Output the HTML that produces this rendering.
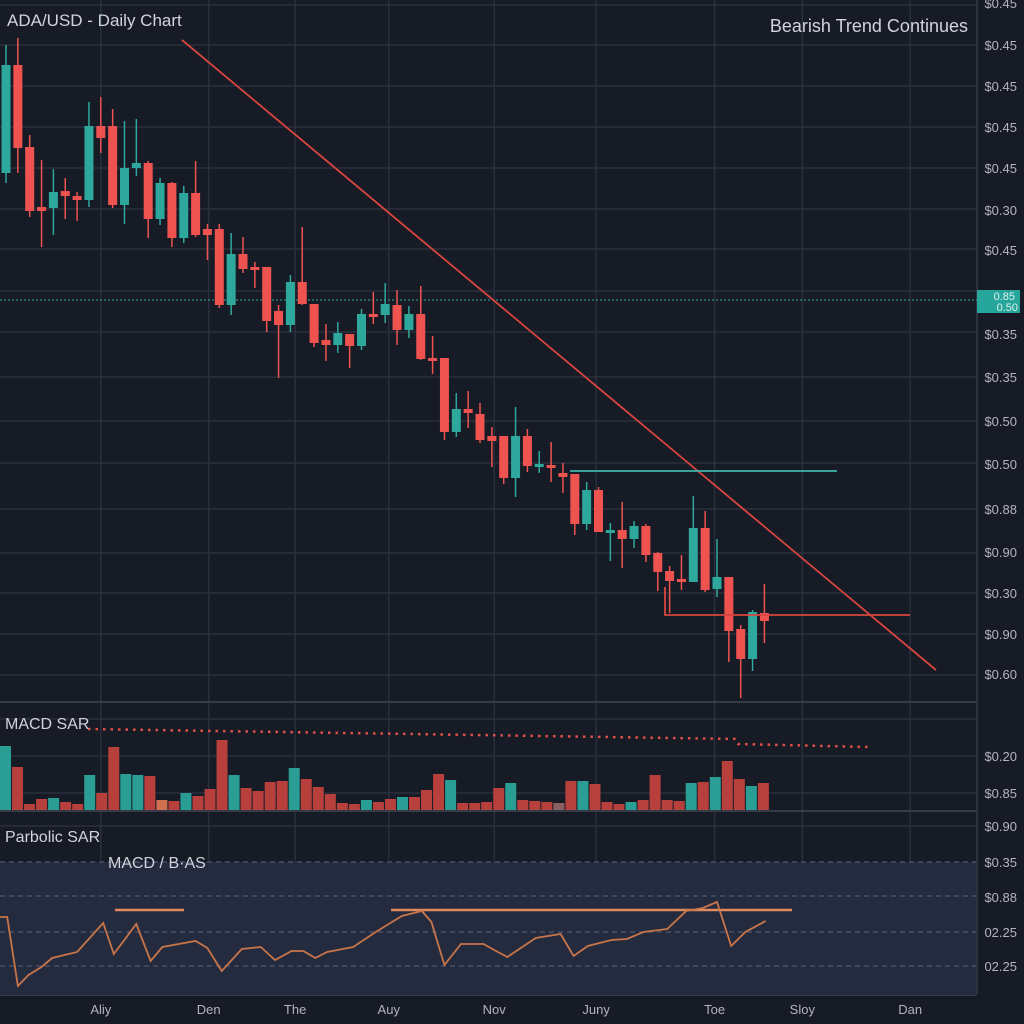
<!DOCTYPE html>
<html><head><meta charset="utf-8">
<style>
html,body{margin:0;padding:0;background:#171b26;}
svg{display:block;font-family:"Liberation Sans",sans-serif;}
</style></head>
<body>
<svg id="chart" width="1024" height="1024" viewBox="0 0 1024 1024" xmlns="http://www.w3.org/2000/svg">
<rect x="0" y="0" width="1024" height="1024" fill="#171b26"/>
<g id="grid"></g>
<rect x="0" y="862" width="976" height="133" fill="#252b3e"/>
<g id="lowgrid"></g>
<g id="candles"></g>
<g id="macd"></g>
<g id="osc"></g>
<g id="axes"></g>
<text x="7" y="26" fill="#d1d4dc" font-size="17">ADA/USD - Daily Chart</text>
<text x="968" y="32" fill="#d1d4dc" font-size="18" text-anchor="end">Bearish Trend Continues</text>
<text x="5" y="729" fill="#d1d4dc" font-size="16">MACD SAR</text>
<text x="5" y="842" fill="#d1d4dc" font-size="16">Parbolic SAR</text>
<text x="108" y="868" fill="#d1d4dc" font-size="16">MACD / B·AS</text>
</svg>
<script>
const NS='http://www.w3.org/2000/svg';
const opens =[.547,.655,.573,.513,.512,.529,.524,.520,.594,.594,.515,.552,.557,.501,.537,.482,.527,.491,.491,.415,.466,.453,.453,.409,.395,.438,.416,.380,.375,.386,.374,.406,.405,.415,.390,.406,.362,.362,.288,.311,.306,.284,.284,.242,.284,.254,.255,.247,.246,.196,.230,.187,.190,.181,.194,.167,.149,.141,.138,.192,.131,.143,.091,.061,.107];
const highs =[.675,.682,.585,.560,.551,.542,.528,.618,.623,.611,.599,.601,.559,.542,.538,.534,.559,.496,.496,.487,.483,.458,.453,.415,.445,.493,.416,.396,.398,.386,.411,.428,.437,.430,.414,.434,.384,.362,.327,.329,.317,.293,.284,.313,.291,.269,.278,.257,.246,.238,.233,.197,.218,.199,.196,.168,.154,.165,.224,.209,.181,.143,.095,.110,.136];
const lows  =[.537,.547,.503,.473,.485,.501,.499,.513,.567,.512,.496,.544,.482,.495,.473,.477,.483,.460,.412,.405,.447,.432,.388,.342,.388,.415,.373,.359,.367,.352,.370,.396,.397,.375,.382,.360,.346,.280,.283,.292,.277,.253,.236,.223,.248,.247,.238,.227,.185,.190,.188,.159,.152,.172,.158,.129,.107,.130,.138,.128,.123,.058,.022,.049,.077];
const closes=[.655,.572,.509,.509,.528,.524,.520,.594,.582,.515,.552,.557,.501,.537,.482,.527,.485,.485,.415,.466,.451,.450,.399,.395,.438,.416,.377,.375,.387,.374,.406,.404,.416,.390,.406,.361,.359,.288,.311,.307,.280,.279,.242,.284,.254,.256,.253,.243,.196,.230,.188,.190,.181,.194,.165,.148,.139,.138,.192,.130,.143,.089,.061,.108,.099];
const macdValues=[64,43,6,11,12,8,6,35,17,63,36,35,34,10,9,17,14,21,70,35,22,19,28,29,42,31,23,16,7,6,10,8,11,13,13,20,36,30,7,7,8,22,27,10,9,8,7,29,29,26,8,6,8,10,35,10,9,27,28,33,49,31,24,27];
const macdColors=['t','r','r','r','t','r','r','t','r','r','t','t','r','o','r','t','r','r','r','t','r','r','r','r','t','r','r','r','r','r','t','r','r','t','r','r','r','t','r','r','r','r','t','r','r','r','g','r','t','r','r','r','t','r','r','r','r','t','r','t','r','r','t','r'];
const oscT=[-0.5,0.1,1.0,1.9,3.0,3.9,6.0,8.2,9.1,11.0,12.2,13.2,16.0,17.0,18.2,19.9,21.5,22.7,24.1,25.1,26.1,27.1,29.3,31.2,33.4,35.1,35.9,37.0,38.4,40.3,41.2,42.3,44.7,46.8,47.9,49.1,51.1,52.4,53.8,55.8,57.4,58.8,60.0,61.2,62.4,64.1];
const oscV=[.83,.83,.14,.25,.33,.42,.48,.77,.46,.76,.39,.53,.59,.52,.29,.51,.53,.40,.49,.49,.42,.48,.53,.68,.84,.89,.78,.35,.56,.56,.50,.43,.62,.66,.44,.54,.60,.61,.68,.71,.89,.92,.98,.54,.68,.79];
const priceLabels=['$0.45','$0.45','$0.45','$0.45','$0.45','$0.30','$0.45','$0.85','$0.35','$0.35','$0.50','$0.50','$0.88','$0.90','$0.30','$0.90','$0.60'];
const xLabels=['Aliy','Den','The','Auy','Nov','Juny','Toe','Sloy','Dan'];
const xLabelDays=[8.0,17.1,24.4,32.3,41.2,49.8,59.8,67.2,76.3];

const xOf=i=>6+i*11.85;
const yOf=p=>(0.72-p)*1000;
const yOsc=v=>1000-v*100;
function mk(tag,attrs,parent){const e=document.createElementNS(NS,tag);for(const k in attrs)e.setAttribute(k,attrs[k]);parent.appendChild(e);return e;}
const svg=document.getElementById('chart');
const grid=document.getElementById('grid');
const gridYs=[5,45,86,127,168,209,249,291,332,377,421,463,509,553,593,634,675];
gridYs.forEach(y=>mk('line',{x1:0,x2:976,y1:y,y2:y,stroke:'#2a2f3c','stroke-width':1.5},grid));
[719,756,793,826].forEach(y=>mk('line',{x1:0,x2:976,y1:y,y2:y,stroke:'#2a2f3c','stroke-width':1.5},grid));
xLabelDays.forEach(d=>{const x=xOf(d);mk('line',{x1:x,x2:x,y1:0,y2:995,stroke:'#2a2f3c','stroke-width':1.5},grid);});
mk('line',{x1:0,x2:976,y1:702,y2:702,stroke:'#363b48','stroke-width':2},grid);
mk('line',{x1:0,x2:976,y1:811,y2:811,stroke:'#363b48','stroke-width':2},grid);
mk('line',{x1:0,x2:976,y1:995,y2:995,stroke:'#363b48','stroke-width':2},grid);
mk('line',{x1:977,x2:977,y1:0,y2:995,stroke:'#363b48','stroke-width':1.5},grid);
const lg=document.getElementById('lowgrid');
[862,896,932,966].forEach(y=>mk('line',{x1:0,x2:976,y1:y,y2:y,stroke:'#4a5066','stroke-width':1.5,'stroke-dasharray':'5,4'},lg));

// dotted price line
mk('line',{x1:0,x2:977,y1:300,y2:300,stroke:'#2d8f86','stroke-width':1.2,'stroke-dasharray':'2,2'},grid);

const cg=document.getElementById('candles');
for(let i=0;i<opens.length;i++){
  const up=closes[i]>=opens[i];const col=up?'#2ea89c':'#ef5350';const x=xOf(i);
  const g=mk('g',{},cg);
  
  
  mk('line',{x1:x,x2:x,y1:yOf(highs[i]),y2:yOf(lows[i]),stroke:col,'stroke-width':1.5},g);
  const t=yOf(Math.max(opens[i],closes[i])),b=yOf(Math.min(opens[i],closes[i]));
  mk('rect',{x:x-4.5,y:t,width:9,height:Math.max(3,b-t),fill:col},g);
}
// trend & level lines
const tl=mk('line',{x1:182,y1:40,x2:936,y2:670,stroke:'#d9453f','stroke-width':1.8},cg);

const rl=mk('line',{x1:570,y1:471,x2:837,y2:471,stroke:'#3fb5aa','stroke-width':1.8},cg);

const sl=mk('polyline',{points:'665,587 665,615 910,615',fill:'none',stroke:'#d9453f','stroke-width':1.8},cg);


const mg=document.getElementById('macd');
const cmap={t:'#2a9d95',r:'#b8403c',o:'#d07050',g:'#8a6060'};
for(let i=0;i<macdValues.length;i++){
  const r=mk('rect',{x:i*12.03,y:810-macdValues[i],width:11,height:macdValues[i],fill:cmap[macdColors[i]]},mg);
  
  
}
const sar=mk('polyline',{points:'88,729 735,739 738,744 868,747',fill:'none',stroke:'#e0504a','stroke-width':2.5,'stroke-dasharray':'2.5,5'},mg);


const og=document.getElementById('osc');
mk('line',{x1:115,x2:184,y1:910,y2:910,stroke:'#e08a60','stroke-width':2.5},og);
mk('line',{x1:391,x2:792,y1:910,y2:910,stroke:'#e08a60','stroke-width':2.5},og);
const pts=oscT.map((t,i)=>xOf(t).toFixed(1)+','+yOsc(oscV[i]).toFixed(1)).join(' ');
const ol=mk('polyline',{points:pts,fill:'none',stroke:'#c8754a','stroke-width':1.8},og);


const ax=document.getElementById('axes');
const labelYs=[3,45,86,127,168,210,250,298,334,377,421,464,509,552,593,634,674];
priceLabels.forEach((l,i)=>{const t=mk('text',{x:1017,y:labelYs[i]+5,fill:'#b2b5be','font-size':13,'text-anchor':'end'},ax);t.textContent=l;
  });
const badge=mk('rect',{x:977,y:290,width:43,height:23,fill:'#26a69a'},ax);

const b1=mk('text',{x:1015,y:300,fill:'#e0f0ee','font-size':11,'text-anchor':'end'},ax);b1.textContent='0.85';
const b2=mk('text',{x:1018,y:311,fill:'#e0f0ee','font-size':11,'text-anchor':'end'},ax);b2.textContent='0.50';
[['$0.20',756],['$0.85',793],['$0.90',826],['$0.35',862],['$0.88',897],['02.25',932],['02.25',966]].forEach(a=>{
  const t=mk('text',{x:1017,y:a[1]+5,fill:'#b2b5be','font-size':13,'text-anchor':'end'},ax);t.textContent=a[0];
  });
xLabels.forEach((l,i)=>{const t=mk('text',{x:xOf(xLabelDays[i]),y:1014,fill:'#b2b5be','font-size':13,'text-anchor':'middle'},ax);t.textContent=l;
  });
</script>
</body></html>
